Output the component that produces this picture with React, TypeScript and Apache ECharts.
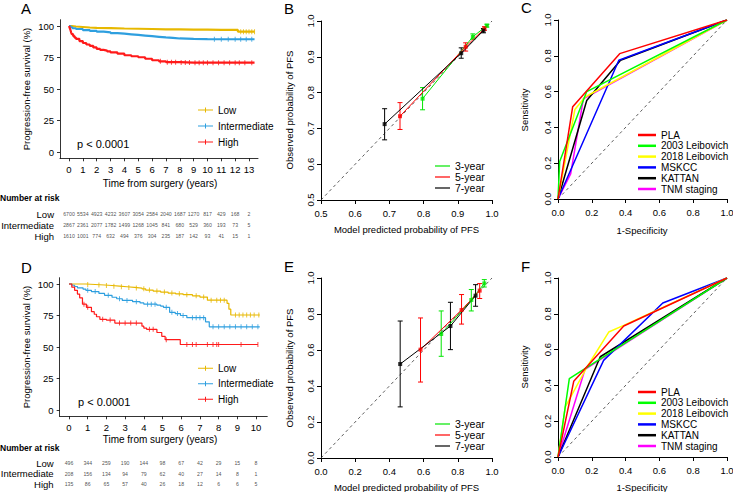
import React, { useEffect, useRef } from 'react';
import * as echarts from 'echarts';

const FONT = '"Liberation Sans", Arial, Helvetica, sans-serif';

// ---------------- Panel A (training cohort KM) ----------------
const timesA = [0, 1, 2, 3, 4, 5, 6, 7, 8, 9, 10, 11, 12, 13];
const riskLowA = [6700, 5534, 4923, 4232, 3607, 3054, 2584, 2040, 1687, 1270, 817, 429, 168, 2];
const riskMidA = [2867, 2361, 2077, 1782, 1499, 1268, 1045, 841, 680, 529, 360, 193, 73, 5];
const riskHighA = [1610, 1001, 774, 632, 494, 376, 304, 235, 187, 142, 93, 41, 15, 1];
const survLowA = [[0, 100], [0.2, 99.6], [0.5, 99.2], [1, 98.8], [1.5, 98.5], [2, 98.3], [3, 98], [4, 97.8], [5, 97.6], [6, 97.4], [7, 97.3], [8, 97.2], [9, 97.1], [10, 97], [11, 96.9], [12.2, 95.5], [13.4, 95.5]];
const survMidA = [[0, 100], [0.1, 99], [0.25, 98.2], [0.5, 97.6], [1, 96.8], [1.5, 96.2], [2, 95.5], [2.5, 95], [3, 94.4], [3.5, 93.9], [4, 93.4], [4.5, 92.9], [5, 92.4], [5.5, 91.9], [6, 91.4], [6.5, 90.9], [7, 90.5], [7.5, 90.1], [8, 89.8], [9, 89.6], [10, 89.5], [13.4, 89.5]];
const survHighA = [[0, 100], [0.05, 98.5], [0.1, 97], [0.15, 95], [0.2, 93.5], [0.3, 92], [0.4, 90.8], [0.5, 89.8], [0.75, 88], [1, 86.5], [1.25, 85.3], [1.5, 84.3], [1.75, 83], [2, 81.8], [2.25, 81], [2.5, 80.5], [2.75, 79.8], [3, 79], [3.5, 78], [4, 76.8], [4.5, 76], [5, 75.2], [5.5, 74], [6, 72.8], [6.5, 72], [7, 71.3], [8, 71], [9, 70.9], [13.4, 70.9]];
const censLowA = [[12.4, 95.5], [12.6, 95.5], [12.8, 95.5], [13.0, 95.5], [13.2, 95.5], [13.4, 95.5]];
const censMidA = [[10.5, 89.5], [11, 89.5], [11.5, 89.5], [12, 89.5], [12.4, 89.5], [12.8, 89.5], [13.2, 89.5]];
const censHighA = [[6.6, 72], [7.1, 71.3], [7.4, 71.3], [7.7, 71.3], [8.1, 71], [8.4, 71], [8.7, 71], [9.1, 70.9], [9.4, 70.9], [9.7, 70.9], [10, 70.9], [10.4, 70.9], [10.8, 70.9], [11.2, 70.9], [11.6, 70.9], [12, 70.9], [12.3, 70.9], [12.7, 70.9], [13.2, 70.9]];

// ---------------- Panel D (validation cohort KM) ----------------
const timesD = [0, 1, 2, 3, 4, 5, 6, 7, 8, 9, 10];
const riskLowD = [496, 344, 259, 190, 144, 98, 67, 42, 29, 15, 8];
const riskMidD = [208, 156, 134, 94, 79, 62, 40, 27, 14, 8, 1];
const riskHighD = [135, 86, 65, 57, 40, 26, 18, 12, 6, 6, 5];
const survLowD = [[0, 100], [0.9, 99.6], [1.4, 99.2], [1.9, 98.8], [2.3, 98.3], [2.7, 97.8], [3.1, 97.3], [3.5, 96.8], [3.9, 96.2], [4.1, 95.2], [4.5, 94.4], [4.9, 93.6], [5.3, 92.8], [5.7, 92.2], [6.1, 91.5], [6.6, 90.6], [7.0, 89.6], [7.4, 87.2], [8.45, 84.7], [8.55, 80.0], [8.65, 75.4], [10.2, 75.4]];
const survMidD = [[0, 100], [0.15, 99], [0.3, 98], [0.45, 97], [0.75, 96], [0.9, 95], [1.2, 94], [1.6, 92.5], [1.9, 91], [2.3, 89.5], [2.55, 88.3], [2.85, 87], [3.4, 86], [3.8, 85], [4.0, 84], [4.7, 83.2], [4.9, 82.5], [5.05, 81.5], [5.38, 77.5], [5.68, 76.5], [5.96, 75], [6.3, 73.3], [7.3, 70], [7.5, 66], [10.2, 66]];
const survHighD = [[0, 100], [0.15, 97.5], [0.3, 95], [0.45, 92], [0.57, 89], [0.72, 84], [0.93, 81.5], [1.2, 78], [1.35, 76], [1.47, 74], [1.65, 72], [2.0, 71.4], [2.45, 69], [3.9, 66.5], [4.0, 65], [4.15, 64], [4.7, 61.5], [4.96, 58.5], [5.14, 55.8], [5.95, 52], [10.1, 52]];
const censLowD = [[1.0, 99.6], [1.6, 99.2], [2.0, 98.8], [2.4, 98.3], [2.8, 97.8], [3.2, 97.3], [3.6, 96.8], [4.0, 96.2], [4.3, 95.2], [4.7, 94.4], [5.1, 93.6], [5.5, 92.8], [5.9, 92.2], [6.3, 91.5], [6.8, 90.6], [7.2, 89.6], [7.6, 87.2], [7.9, 87.2], [8.1, 87.2], [8.3, 87.2], [8.9, 75.4], [9.1, 75.4], [9.3, 75.4], [9.5, 75.4], [9.7, 75.4], [9.9, 75.4], [10.15, 75.4]];
const censMidD = [[1.0, 95], [1.4, 94], [2.1, 91], [2.7, 88.3], [3.1, 87], [3.6, 86], [4.2, 84], [4.4, 84], [4.6, 84], [5.2, 81.5], [5.5, 77.5], [5.8, 76.5], [6.1, 75], [6.6, 73.3], [6.8, 73.3], [7.0, 73.3], [7.2, 73.3], [7.7, 66], [8.0, 66], [8.3, 66], [8.6, 66], [8.9, 66], [9.2, 66], [9.5, 66], [9.8, 66], [10.1, 66]];
const censHighD = [[0.8, 84], [1.0, 81.5], [1.8, 72], [2.2, 71.4], [2.7, 69], [3.0, 69], [3.3, 69], [3.6, 69], [4.3, 64], [4.5, 64], [5.2, 55.8], [6.3, 52], [6.6, 52], [6.8, 52], [7.4, 52], [7.7, 52], [7.9, 52], [8.0, 52], [9.2, 52], [10.1, 52]];

const survTicks = [0, 25, 50, 75, 100];
const groups = ['Low', 'Intermediate', 'High'];

// ---------------- Panel B (calibration, training) ----------------
const predB3 = [0.797, 0.944, 0.985];
const obsB3 = [0.783, 0.956, 0.987];
const loB3 = [0.752, 0.949, 0.983];
const hiB3 = [0.814, 0.964, 0.991];
const predB5 = [0.731, 0.923, 0.978];
const obsB5 = [0.734, 0.928, 0.979];
const loB5 = [0.697, 0.916, 0.974];
const hiB5 = [0.772, 0.939, 0.984];
const predB7 = [0.686, 0.910, 0.975];
const obsB7 = [0.712, 0.910, 0.973];
const loB7 = [0.668, 0.896, 0.967];
const hiB7 = [0.755, 0.925, 0.979];
const ticksB = [0.5, 0.6, 0.7, 0.8, 0.9, 1.0];

// ---------------- Panel E (calibration, validation) ----------------
const predE3 = [0.703, 0.879, 0.955];
const obsE3 = [0.689, 0.878, 0.970];
const loE3 = [0.565, 0.817, 0.950];
const hiE3 = [0.817, 0.936, 0.991];
const predE5 = [0.582, 0.822, 0.928];
const obsE5 = [0.602, 0.822, 0.930];
const loE5 = [0.422, 0.744, 0.886];
const hiE5 = [0.778, 0.908, 0.969];
const predE7 = [0.463, 0.757, 0.904];
const obsE7 = [0.522, 0.733, 0.902];
const loE7 = [0.284, 0.602, 0.843];
const hiE7 = [0.761, 0.865, 0.963];
const ticks01 = [0, 0.2, 0.4, 0.6, 0.8, 1.0];

// ---------------- Panel C (ROC, training) ----------------
const rocNames = ['PLA', '2003 Leibovich', '2018 Leibovich', 'MSKCC', 'KATTAN', 'TNM staging'];
const rocC_PLA = [[0, 0], [0.087, 0.516], [0.365, 0.812], [1, 1]];
const rocC_L2003 = [[0, 0], [0.01, 0.21], [0.17, 0.6], [1, 1]];
const rocC_L2018 = [[0, 0], [0.1, 0.5], [0.16, 0.57], [1, 1]];
const rocC_MSKCC = [[0, 0], [0.36, 0.775], [1, 1]];
const rocC_KATTAN = [[0, 0], [0.17, 0.55], [0.37, 0.775], [1, 1]];
const rocC_TNM = [[0, 0], [0.075, 0.14], [0.15, 0.56], [1, 1]];

// ---------------- Panel F (ROC, validation) ----------------
const rocF_PLA = [[0, 0], [0.093, 0.423], [0.389, 0.732], [1, 1]];
const rocF_L2003 = [[0, 0], [0.067, 0.438], [1, 1]];
const rocF_L2018 = [[0, 0], [0.043, 0.28], [0.17, 0.5], [0.3, 0.698], [0.389, 0.735], [1, 1]];
const rocF_MSKCC = [[0, 0], [0.27, 0.54], [0.62, 0.86], [1, 1]];
const rocF_KATTAN = [[0, 0], [0.25, 0.56], [1, 1]];
const rocF_TNM = [[0, 0], [0.16, 0.49], [1, 1]];
const diag01 = [[0, 0], [1, 1]];
const diagB = [[0.5, 0.5], [1, 1]];

const SURV_COLORS: Record<string, string> = { Low: '#E7B800', Intermediate: '#2E9FDF', High: '#FF1A1A' };
const CAL_COLORS: Record<string, string> = { '3-year': '#00E600', '5-year': '#FF0000', '7-year': '#000000' };
const ROC_COLORS: Record<string, string> = {
  PLA: '#FF0000', '2003 Leibovich': '#00FF00', '2018 Leibovich': '#FFFF00',
  MSKCC: '#0000FF', KATTAN: '#000000', 'TNM staging': '#FF00FF',
};

function valAxis(gi: number, min: number, max: number, ticks: number[] | null, o: any = {}) {
  return {
    type: 'value', gridIndex: gi, min, max, show: o.show !== false,
    axisLine: { show: true, onZero: false, lineStyle: { color: '#000', width: o.lw ?? 1 } },
    axisTick: { show: true, inside: false, length: o.tickLen ?? 3, customValues: ticks || undefined, lineStyle: { color: '#000', width: o.lw ?? 1 } },
    axisLabel: {
      show: true, customValues: ticks || undefined, rotate: o.rotate ?? 0, margin: o.margin ?? 5,
      fontSize: o.fs ?? 9.5, fontFamily: FONT, color: '#000', formatter: o.fmt,
    },
    splitLine: { show: false },
  };
}

function txt(text: string, x: number, y: number, o: any = {}) {
  return {
    type: 'text', x, y, rotation: o.rot || 0, silent: true,
    style: {
      text, fontSize: o.fs || 9.5, fontFamily: FONT, fontWeight: o.fw || 'normal', fill: '#000',
      align: o.align || 'center', verticalAlign: 'middle',
      textAlign: o.align || 'center', textVerticalAlign: 'middle',
    },
  };
}

function buildOption() {
  const grid: any[] = [];
  const xAxis: any[] = [];
  const yAxis: any[] = [];
  const series: any[] = [];
  const addGrid = (left: number, top: number, width: number, height: number) => {
    grid.push({ left, top, width, height, containLabel: false, outerBoundsMode: 'none', show: false });
    return grid.length - 1;
  };
  const fmt1 = (v: number) => v.toFixed(1);

  const survSeries = (gi: number, name: string, data: number[][], lw: number) => ({
    type: 'line', name, xAxisIndex: gi, yAxisIndex: gi, data, step: 'end', showSymbol: false, symbol: 'none',
    lineStyle: { color: SURV_COLORS[name], width: lw }, itemStyle: { color: SURV_COLORS[name] }, silent: true, z: 2,
  });
  const censSeries = (gi: number, name: string, data: number[][], w: number, h: number) => ({
    type: 'scatter', name: name + ' censored', xAxisIndex: gi, yAxisIndex: gi, data, symbol: 'rect',
    symbolSize: [w, h], itemStyle: { color: SURV_COLORS[name] }, silent: true, z: 3,
  });
  const riskSeries = (gi: number, name: string, times: number[], vals: number[]) => ({
    type: 'scatter', name: name + ' at risk', xAxisIndex: gi, yAxisIndex: gi,
    data: times.map((t, i) => [t, name, vals[i]]), symbolSize: 1, itemStyle: { color: 'rgba(0,0,0,0)' },
    label: { show: true, position: 'inside', formatter: (p: any) => String(p.value[2]), fontSize: 5.2, fontFamily: FONT, color: '#222' },
    silent: true,
  });
  const calSeries = (gi: number, name: string, pred: number[], obs: number[], lo: number[], hi: number[]) => {
    const color = CAL_COLORS[name];
    const pts = pred.map((p, i) => [p, obs[i]]);
    return [
      { type: 'line', name, xAxisIndex: gi, yAxisIndex: gi, data: pts, showSymbol: false, symbol: 'none', lineStyle: { color, width: 1 }, itemStyle: { color }, silent: true },
      { type: 'scatter', name: name + ' points', xAxisIndex: gi, yAxisIndex: gi, data: pts, symbol: 'rect', symbolSize: 4, itemStyle: { color }, silent: true, z: 4 },
      {
        type: 'custom', name: name + ' CI', xAxisIndex: gi, yAxisIndex: gi, silent: true, z: 3,
        data: pred.map((p, i) => [p, lo[i], hi[i]]),
        encode: { x: 0, y: [1, 2] },
        renderItem: (_params: any, api: any) => {
          const a = api.coord([api.value(0), api.value(1)]);
          const b = api.coord([api.value(0), api.value(2)]);
          const cw = 2.5;
          const style = { stroke: color, lineWidth: 1, fill: null };
          return {
            type: 'group', children: [
              { type: 'line', shape: { x1: a[0], y1: a[1], x2: b[0], y2: b[1] }, style },
              { type: 'line', shape: { x1: a[0] - cw, y1: a[1], x2: a[0] + cw, y2: a[1] }, style },
              { type: 'line', shape: { x1: b[0] - cw, y1: b[1], x2: b[0] + cw, y2: b[1] }, style },
            ],
          };
        },
      },
    ];
  };
  const refLine = (gi: number, data: number[][]) => ({
    type: 'line', name: 'reference', xAxisIndex: gi, yAxisIndex: gi, data, showSymbol: false, symbol: 'none',
    lineStyle: { color: '#333', width: 0.8, type: [3, 3] }, silent: true, z: 1,
  });
  const rocSeries = (gi: number, name: string, data: number[][]) => ({
    type: 'line', name, xAxisIndex: gi, yAxisIndex: gi, data, showSymbol: false, symbol: 'none',
    lineStyle: { color: ROC_COLORS[name], width: 1.5 }, itemStyle: { color: ROC_COLORS[name] }, silent: true, z: 2,
  });

  // A
  const gA = addGrid(60, 19.7, 198, 138.6);
  xAxis.push(valAxis(gA, -0.65, 13.65, timesA, { margin: 6, lw: 0.8 }));
  yAxis.push(valAxis(gA, -5, 105, survTicks, { margin: 6, lw: 0.8 }));
  series.push(survSeries(gA, 'Low', survLowA, 2.2), survSeries(gA, 'Intermediate', survMidA, 2.2), survSeries(gA, 'High', survHighA, 2.2));
  series.push(censSeries(gA, 'Low', censLowA, 1, 5), censSeries(gA, 'Intermediate', censMidA, 1, 5), censSeries(gA, 'High', censHighA, 1, 5));

  // B
  const gB = addGrid(321, 21, 171, 179);
  xAxis.push(valAxis(gB, 0.5, 1.0, ticksB, { margin: 8, fmt: fmt1, tickLen: 4 }));
  yAxis.push(valAxis(gB, 0.5, 1.0, ticksB, { margin: 6, fmt: fmt1, rotate: 90, tickLen: 4 }));
  series.push(refLine(gB, diagB));
  series.push(...calSeries(gB, '3-year', predB3, obsB3, loB3, hiB3));
  series.push(...calSeries(gB, '5-year', predB5, obsB5, loB5, hiB5));
  series.push(...calSeries(gB, '7-year', predB7, obsB7, loB7, hiB7));

  // C
  const gC = addGrid(558, 20, 169, 179);
  xAxis.push(valAxis(gC, 0, 1, ticks01, { margin: 8, fmt: fmt1, tickLen: 4 }));
  yAxis.push(valAxis(gC, 0, 1, ticks01, { margin: 6, fmt: fmt1, rotate: 90, tickLen: 4 }));
  series.push(refLine(gC, diag01));
  series.push(rocSeries(gC, 'TNM staging', rocC_TNM), rocSeries(gC, 'KATTAN', rocC_KATTAN), rocSeries(gC, 'MSKCC', rocC_MSKCC),
    rocSeries(gC, '2018 Leibovich', rocC_L2018), rocSeries(gC, '2003 Leibovich', rocC_L2003), rocSeries(gC, 'PLA', rocC_PLA));

  // D
  const gD = addGrid(59.65, 277.7, 207.6, 138.6);
  xAxis.push(valAxis(gD, -0.5, 10.6, timesD, { margin: 6, lw: 0.8 }));
  yAxis.push(valAxis(gD, -5, 105, survTicks, { margin: 6, lw: 0.8 }));
  series.push(survSeries(gD, 'Low', survLowD, 1.2), survSeries(gD, 'Intermediate', survMidD, 1.2), survSeries(gD, 'High', survHighD, 1.2));
  series.push(censSeries(gD, 'Low', censLowD, 1, 5), censSeries(gD, 'Intermediate', censMidD, 1, 5), censSeries(gD, 'High', censHighD, 1, 5));

  // E
  const gE = addGrid(321, 278, 171, 180);
  xAxis.push(valAxis(gE, 0, 1, ticks01, { margin: 8, fmt: fmt1, tickLen: 4 }));
  yAxis.push(valAxis(gE, 0, 1, ticks01, { margin: 6, fmt: fmt1, rotate: 90, tickLen: 4 }));
  series.push(refLine(gE, diag01));
  series.push(...calSeries(gE, '3-year', predE3, obsE3, loE3, hiE3));
  series.push(...calSeries(gE, '5-year', predE5, obsE5, loE5, hiE5));
  series.push(...calSeries(gE, '7-year', predE7, obsE7, loE7, hiE7));

  // F
  const gF = addGrid(558, 278, 169, 179);
  xAxis.push(valAxis(gF, 0, 1, ticks01, { margin: 8, fmt: fmt1, tickLen: 4 }));
  yAxis.push(valAxis(gF, 0, 1, ticks01, { margin: 6, fmt: fmt1, rotate: 90, tickLen: 4 }));
  series.push(refLine(gF, diag01));
  series.push(rocSeries(gF, 'TNM staging', rocF_TNM), rocSeries(gF, 'KATTAN', rocF_KATTAN), rocSeries(gF, 'MSKCC', rocF_MSKCC),
    rocSeries(gF, '2018 Leibovich', rocF_L2018), rocSeries(gF, '2003 Leibovich', rocF_L2003), rocSeries(gF, 'PLA', rocF_PLA));

  // Risk tables
  const riskAxisY = (gi: number) => ({
    type: 'category', gridIndex: gi, data: groups, inverse: true,
    axisLine: { show: false }, axisTick: { show: false }, splitLine: { show: false },
    axisLabel: { show: true, interval: 0, margin: 6, fontSize: 9.5, fontFamily: FONT, color: '#000' },
  });
  const gRA = addGrid(60, 208.5, 198, 33);
  xAxis.push({ type: 'value', gridIndex: gRA, min: -0.65, max: 13.65, show: false });
  yAxis.push(riskAxisY(gRA));
  series.push(riskSeries(gRA, 'Low', timesA, riskLowA), riskSeries(gRA, 'Intermediate', timesA, riskMidA), riskSeries(gRA, 'High', timesA, riskHighA));

  const gRD = addGrid(59.65, 457.75, 207.6, 31.5);
  xAxis.push({ type: 'value', gridIndex: gRD, min: -0.5, max: 10.6, show: false });
  yAxis.push(riskAxisY(gRD));
  series.push(riskSeries(gRD, 'Low', timesD, riskLowD), riskSeries(gRD, 'Intermediate', timesD, riskMidD), riskSeries(gRD, 'High', timesD, riskHighD));

  const plusIcon = 'path://M0,4h30v2h-30zM14,0h2v10h-2z';
  const legBase = (o: any) => ({
    orient: 'vertical', padding: 0, itemGap: 0, selectedMode: false,
    itemStyle: { borderWidth: 0 },
    ...o,
  });
  const legend = [
    legBase({ left: 198, top: 102, itemWidth: 15, itemHeight: 5, icon: plusIcon, data: groups, textStyle: { fontSize: 10, lineHeight: 16, color: '#000', fontFamily: FONT } }),
    legBase({ left: 198, top: 360.5, itemWidth: 15, itemHeight: 5, icon: plusIcon, data: groups, textStyle: { fontSize: 10, lineHeight: 15.5, color: '#000', fontFamily: FONT } }),
    legBase({ left: 435, top: 160.5, itemWidth: 15, itemHeight: 1.2, icon: 'rect', data: ['3-year', '5-year', '7-year'], textStyle: { fontSize: 10.5, lineHeight: 11, color: '#000', fontFamily: FONT } }),
    legBase({ left: 435, top: 418.5, itemWidth: 15, itemHeight: 1.2, icon: 'rect', data: ['3-year', '5-year', '7-year'], textStyle: { fontSize: 10.5, lineHeight: 11, color: '#000', fontFamily: FONT } }),
    legBase({ left: 638, top: 129.6, itemWidth: 18, itemHeight: 2.5, icon: 'rect', data: rocNames, textStyle: { fontSize: 10, lineHeight: 10.8, color: '#000', fontFamily: FONT } }),
    legBase({ left: 638, top: 386.6, itemWidth: 18, itemHeight: 2.5, icon: 'rect', data: rocNames, textStyle: { fontSize: 10, lineHeight: 10.8, color: '#000', fontFamily: FONT } }),
  ];

  const R = Math.PI / 2;
  const graphic = {
    elements: [
      txt('A', 21, 8, { fs: 15, align: 'left' }),
      txt('B', 284, 8, { fs: 15, align: 'left' }),
      txt('C', 521, 7, { fs: 15, align: 'left' }),
      txt('D', 21, 267, { fs: 15, align: 'left' }),
      txt('E', 284, 266, { fs: 15, align: 'left' }),
      txt('F', 521, 266, { fs: 15, align: 'left' }),
      txt('Progression-free survival (%)', 26, 89, { rot: R }),
      txt('Time from surgery (years)', 160, 183, { fs: 10 }),
      txt('p < 0.0001', 77, 144, { fs: 11, align: 'left' }),
      txt('Number at risk', 0, 198, { fs: 8.5, fw: 'bold', align: 'left' }),
      txt('Progression-free survival (%)', 26, 347, { rot: R }),
      txt('Time from surgery (years)', 160, 439, { fs: 10 }),
      txt('p < 0.0001', 78, 402, { fs: 11, align: 'left' }),
      txt('Number at risk', 0, 448, { fs: 8.5, fw: 'bold', align: 'left' }),
      txt('Observed probability of PFS', 289, 110, { rot: R }),
      txt('Model predicted probability of PFS', 406.5, 229),
      txt('Sensitivity', 524, 110, { rot: R }),
      txt('1-Specificity', 642, 230),
      txt('Observed probability of PFS', 289, 368, { rot: R }),
      txt('Model predicted probability of PFS', 406.5, 487),
      txt('Sensitivity', 524, 367, { rot: R }),
      txt('1-Specificity', 642, 487),
    ],
  };

  return { animation: false, backgroundColor: '#fff', grid, xAxis, yAxis, series, legend, graphic, tooltip: { show: false } };
}

export default function App() {
  const ref = useRef<HTMLDivElement>(null);
  useEffect(() => {
    if (!ref.current) return;
    const chart = echarts.init(ref.current, null, { renderer: 'svg' });
    chart.setOption(buildOption() as any);
    return () => chart.dispose();
  }, []);
  return <div ref={ref} style={{ position: 'absolute', left: 0, top: 0, width: 733, height: 492, background: '#fff' }} />;
}
